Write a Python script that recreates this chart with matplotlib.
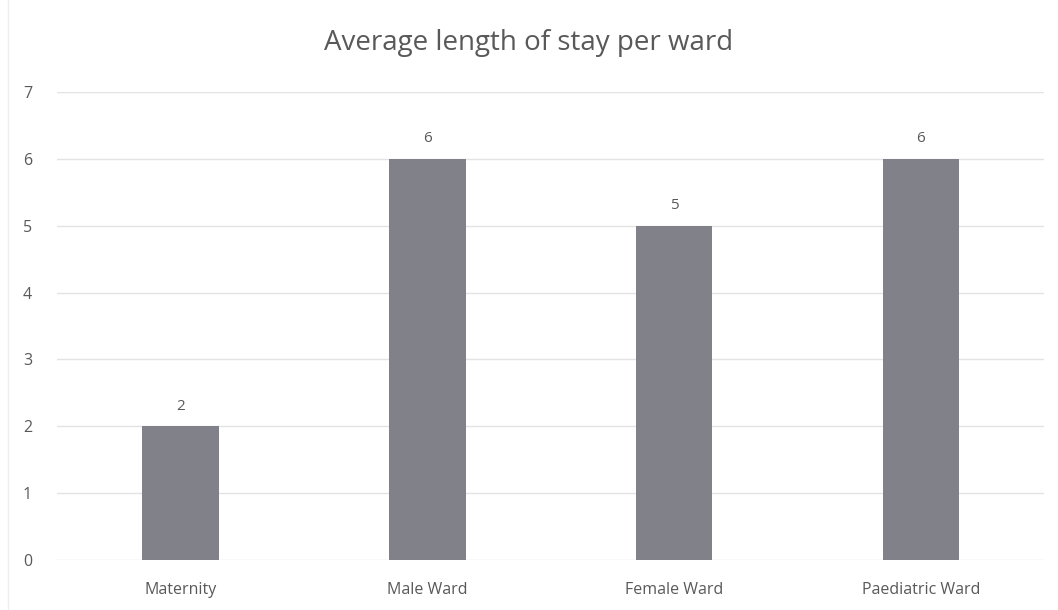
import matplotlib.pyplot as plt

# ------------------------------------------------------------
# Data
# ------------------------------------------------------------
wards = ['Maternity', 'Male Ward', 'Female Ward', 'Paediatric Ward']
avg_stay = [2, 6, 5, 6]
y_ticks = [0, 1, 2, 3, 4, 5, 6, 7]

text_color = '#595959'
bar_color = '#818189'
grid_color = '#e3e3e3'

plt.rcParams['font.family'] = ['Open Sans', 'DejaVu Sans']

# ------------------------------------------------------------
# Plot
# ------------------------------------------------------------
fig = plt.figure(figsize=(10.58, 6.10), dpi=100)
ax = fig.add_axes([0.054, 0.082, 0.933, 0.767])

x = range(len(wards))
bars = ax.bar(x, avg_stay, width=0.31, color=bar_color, zorder=3)

for rect, val in zip(bars, avg_stay):
    ax.annotate(f"{val}", (rect.get_x() + rect.get_width() / 2, val),
                xytext=(0, 9), textcoords='offset points', ha='center', va='bottom',
                fontsize=11, color=text_color)

ax.set_xlim(-0.5, len(wards) - 0.5)
ax.set_ylim(0, 7)
ax.set_yticks(y_ticks)
ax.set_xticks(list(x))
ax.set_xticklabels(wards)
ax.tick_params(axis='both', length=0, labelsize=11.5, labelcolor=text_color)
ax.tick_params(axis='x', pad=16)
ax.tick_params(axis='y', pad=18)
for s in ax.spines.values():
    s.set_visible(False)
ax.grid(axis='y', color=grid_color, linewidth=1, zorder=0)

fig.text(0.5, 0.93, 'Average length of stay per ward', ha='center', va='center',
         fontsize=20, color=text_color)

# faint chart frame on the left
fig.add_artist(plt.Line2D([0.008, 0.008], [0.0, 1.0], color='#eeeeee', linewidth=1))

plt.savefig('out.png', dpi=100)
